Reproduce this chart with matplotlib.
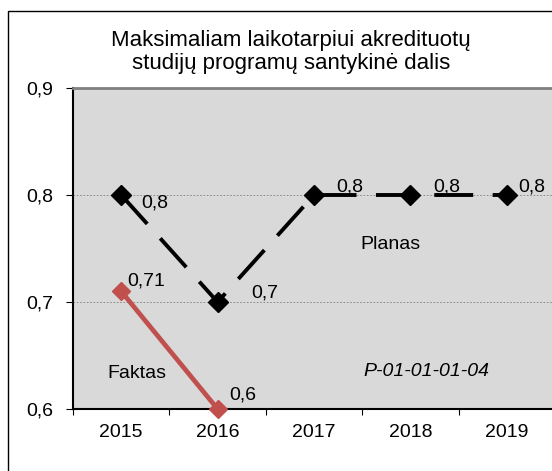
import numpy as np
import matplotlib.pyplot as plt
from matplotlib.patches import Rectangle

plt.rcParams['font.family'] = ['Liberation Sans', 'DejaVu Sans']

# duomenys
metai = ['2015', '2016', '2017', '2018', '2019']
planas = [0.8, 0.7, 0.8, 0.8, 0.8]
faktas = [0.71, 0.6]
y_ticks = [0.6, 0.7, 0.8, 0.9]
y_labels = ['0,6', '0,7', '0,8', '0,9']
planas_txt = ['0,8', '0,7', '0,8', '0,8', '0,8']
faktas_txt = ['0,71', '0,6']

# label offsets in pixels (left edge, vertical centre)
planas_off = [(20, -8), (34, 9), (22, 8), (23, 8), (11, 8)]
faktas_off = [(6, 10), (12, 14)]

fig = plt.figure(figsize=(5.52, 4.71), dpi=100)
fig.patches.append(Rectangle((8/552, -0.2), 1.2, 1.2 - 11/471, transform=fig.transFigure,
                             fill=False, edgecolor='black', linewidth=1.0))

ax = fig.add_axes([73/552, 1 - 409/471, 482/552, 321/471])
ax.set_facecolor('#D9D9D9')

x = np.arange(len(metai))
ax.plot(x, planas, color='black', linewidth=2.8, dashes=(10, 5),
        marker='D', markersize=10, zorder=3, clip_on=False)
ax.plot(x[:len(faktas)], faktas, color='#C0504D', linewidth=3.4,
        marker='D', markersize=9.5, zorder=3, clip_on=False)

for i, t in enumerate(planas_txt):
    ax.annotate(t, (x[i], planas[i]), xytext=planas_off[i], textcoords='offset pixels',
                ha='left', va='center', fontsize=14)
for i, t in enumerate(faktas_txt):
    ax.annotate(t, (x[i], faktas[i]), xytext=faktas_off[i], textcoords='offset pixels',
                ha='left', va='center', fontsize=14)

ax.set_xlim(-0.5, len(metai) - 0.5)
ax.set_ylim(0.6, 0.9)
ax.set_yticks(y_ticks)
ax.set_yticklabels(y_labels)
ax.set_xticks(x)
ax.set_xticklabels(metai)
ax.set_xticks(np.arange(len(metai) + 1) - 0.5, minor=True)
ax.tick_params(axis='x', which='major', length=0, pad=11, labelsize=14)
ax.tick_params(axis='x', which='minor', length=4, width=0.8, direction='out')
ax.tick_params(axis='y', length=5, width=0.8, direction='out', pad=9, labelsize=14)

for yv in [0.7, 0.8]:
    ax.axhline(yv, color='#808080', linewidth=0.6, linestyle=(0, (2, 2)), zorder=1)

ax.spines['top'].set_color('#808080')
ax.spines['top'].set_linewidth(2)
ax.spines['right'].set_visible(False)
ax.spines['left'].set_linewidth(1.5)
ax.spines['bottom'].set_linewidth(1.5)

ax.text(287/482, 1 - (244 - 88)/321, 'Planas', transform=ax.transAxes,
        ha='left', va='center', fontsize=14)
ax.text(34/482, 1 - (374 - 88)/321, 'Faktas', transform=ax.transAxes,
        ha='left', va='center', fontsize=14)
ax.text(290/482, 1 - (372 - 88)/321, 'P-01-01-01-04', transform=ax.transAxes,
        ha='left', va='center', fontsize=14, style='italic')

fig.text(291/552, 1 - 52/471, 'Maksimaliam laikotarpiui akredituotų\nstudijų programų santykinė dalis',
         ha='center', va='center', fontsize=16, linespacing=1.15)

fig.savefig('out.png', dpi=100)
